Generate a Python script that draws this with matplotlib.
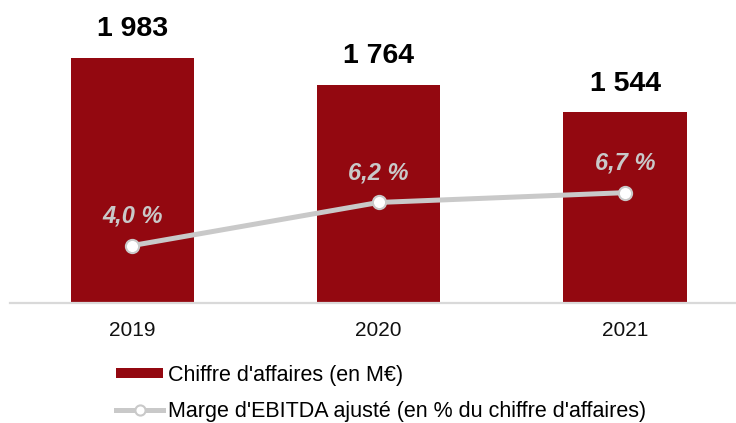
import matplotlib
matplotlib.use("Agg")
import matplotlib.pyplot as plt
from matplotlib.legend_handler import HandlerPatch
from matplotlib.patches import Rectangle

plt.rcParams['font.family'] = ['Liberation Sans', 'DejaVu Sans']

years = ["2019", "2020", "2021"]
revenue = [1983, 1764, 1544]
revenue_labels = ["1 983", "1 764", "1 544"]
margin = [4.0, 6.2, 6.7]
margin_labels = ["4,0 %", "6,2 %", "6,7 %"]

BAR = "#930810"
LINE = "#C9C9C9"

W, H = 736, 423
fig = plt.figure(figsize=(W / 100, H / 100), dpi=100)
left, right, bottom, top = 10, 736, 303, 10
ax = fig.add_axes([left / W, (H - bottom) / H, (right - left) / W, (bottom - top) / H])
ax2 = ax.twinx()

x = list(range(len(years)))
bars = ax.bar(x, revenue, width=0.5, color=BAR, zorder=2)
ax.set_xlim(-0.496, 2.45)
ax.set_ylim(0, 2370)
ax2.set_ylim(1.07, 16.02)

for xi, v, lab in zip(x, revenue, revenue_labels):
    ax.annotate(lab, (xi, v), xytext=(0, 15.5), textcoords="offset points",
                ha="center", va="baseline", fontsize=20.5, fontweight="bold", color="black")

line, = ax2.plot(x, margin, color=LINE, lw=3.6, marker="o", markersize=9.5,
                 markerfacecolor="white", markeredgecolor=LINE, markeredgewidth=1.5,
                 label="Marge d'EBITDA ajusté (en % du chiffre d'affaires)", zorder=3)
for xi, v, lab in zip(x, margin, margin_labels):
    ax2.annotate(lab, (xi, v), xytext=(0, 21), textcoords="offset points",
                 ha="center", va="center", fontsize=17, fontweight="bold",
                 fontstyle="italic", color=LINE)

for a in (ax, ax2):
    for s in a.spines.values():
        s.set_visible(False)
    a.set_yticks([])
ax.spines["bottom"].set_visible(True)
ax.spines["bottom"].set_color("#D9D9D9")
ax.spines["bottom"].set_linewidth(1.6)
ax.set_xticks(x)
ax.set_xticklabels(years, fontsize=15, color="#111111")
ax.tick_params(axis="x", length=0, pad=13)

def make_bar_patch(legend, orig_handle, xdescent, ydescent, width, height, fontsize):
    return Rectangle((-xdescent, -ydescent + height * 0.17), width, height * 0.66)

bar_handle = bars.patches[0]
fig.legend([bar_handle, line], ["Chiffre d'affaires (en M€)", line.get_label()],
           loc="upper left", bbox_to_anchor=(116 / W, (H - 365) / H),
           frameon=False, fontsize=15.5, handlelength=2.19, handletextpad=0.23,
           labelspacing=0.7, markerscale=0.77, borderaxespad=0, borderpad=0,
           handler_map={Rectangle: HandlerPatch(patch_func=make_bar_patch)})

fig.savefig("out.png", dpi=100)
